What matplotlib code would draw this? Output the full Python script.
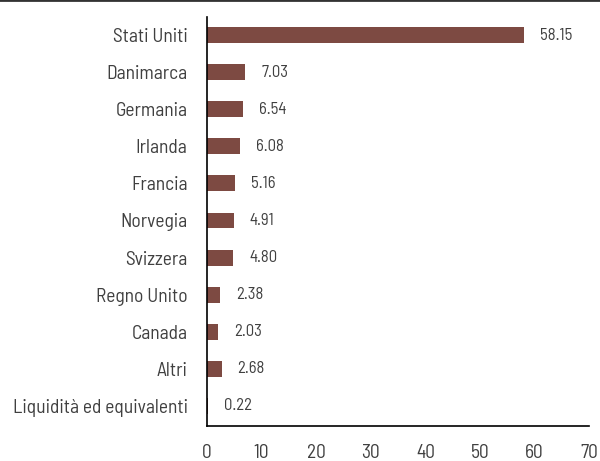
import matplotlib
matplotlib.use("Agg")
import matplotlib.pyplot as plt

categories = ["Stati Uniti", "Danimarca", "Germania", "Irlanda", "Francia", "Norvegia",
              "Svizzera", "Regno Unito", "Canada", "Altri", "Liquidità ed equivalenti"]
values = [58.15, 7.03, 6.54, 6.08, 5.16, 4.91, 4.80, 2.38, 2.03, 2.68, 0.22]
xticks = [0, 10, 20, 30, 40, 50, 60, 70]

plt.rcParams["font.family"] = ["Barlow Semi Condensed", "DejaVu Sans"]

txt = "#404040"
fig = plt.figure(figsize=(6, 4.61), dpi=100)
ax = fig.add_axes([0.345, 0.076, 0.637, 0.887])
y = list(range(len(categories)))
ax.barh(y, values, height=0.43, color="#7d4a42")
for yi, v in zip(y, values):
    ax.text(v + 2.9, yi, f"{v:.2f}", va="center", ha="left", fontsize=12, color=txt)
ax.set_yticks(y)
ax.set_yticklabels(categories, fontsize=14, color=txt)
ax.set_xticks(xticks)
ax.set_xticklabels([str(t) for t in xticks], fontsize=14, color=txt)
ax.set_xlim(0, 70)
ax.set_ylim(10.54, -0.485)
ax.tick_params(length=0)
ax.tick_params(axis="x", pad=13)
ax.tick_params(axis="y", pad=14)
for s in ["top", "right"]:
    ax.spines[s].set_visible(False)
for s in ["left", "bottom"]:
    ax.spines[s].set_color("black")
    ax.spines[s].set_linewidth(1.2)
fig.add_artist(plt.Line2D([0, 1], [0.999, 0.999], color="#333333", lw=2, transform=fig.transFigure))
fig.savefig("out.png", dpi=100)
